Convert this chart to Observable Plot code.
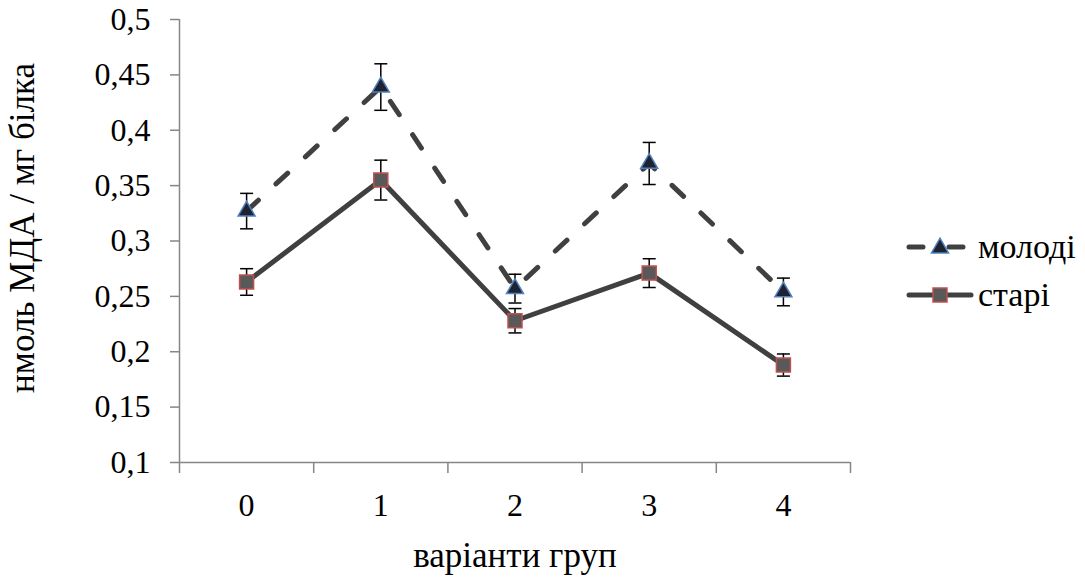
<!DOCTYPE html>
<html>
<head>
<meta charset="utf-8">
<script src="https://cdn.jsdelivr.net/npm/d3@7"></script>
<script src="https://cdn.jsdelivr.net/npm/@observablehq/plot@0.6"></script>
<style>
  html, body { margin: 0; padding: 0; background: #fff; }
  #wrap { position: relative; width: 1085px; height: 577px; font-family: "Liberation Serif", "Times New Roman", serif; }
  #chart svg, #chart svg text { font-family: "Liberation Serif", "Times New Roman", serif; }
  #legend { position: absolute; left: 903px; top: 223px; font-size: 34px; color: #000; }
  #legend .row { display: flex; align-items: center; height: 48px; }
  #legend svg { display: block; }
</style>
</head>
<body>
<div id="wrap">
  <div id="chart"></div>
  <div id="legend"></div>
</div>
<script>
// Groups on the x axis
const groups = [0, 1, 2, 3, 4];

// Series: young animals (молоді) — mean and error
const young = [0.327, 0.439, 0.257, 0.370, 0.254];
const youngErr = [0.016, 0.021, 0.013, 0.019, 0.0125];

// Series: old animals (старі) — mean and error
const old = [0.263, 0.355, 0.228, 0.271, 0.188];
const oldErr = [0.012, 0.018, 0.011, 0.013, 0.010];

// Y axis ticks
const yTicks = [0.1, 0.15, 0.2, 0.25, 0.3, 0.35, 0.4, 0.45, 0.5];

const seriesNames = ["молоді", "старі"];
const xTitle = "варіанти груп";
const yTitle = "нмоль МДА / мг білка";

const rowsYoung = groups.map((g, i) => ({g, v: young[i], e: youngErr[i]}));
const rowsOld = groups.map((g, i) => ({g, v: old[i], e: oldErr[i]}));

// category boundaries for the x tick marks
const xDomain = [groups[0] - 0.5, groups[groups.length - 1] + 0.5];
const boundaries = groups.map(g => g - 0.5).concat([xDomain[1]]);
const yDomain = [yTicks[0], yTicks[yTicks.length - 1]];

const font = "Liberation Serif";
const lineColor = "#404040";
const axisColor = "#868686";
const comma = d => String(d).replace(".", ",");

// horizontal cap symbol for error bars
const cap = {
  draw(context, size) {
    const r = Math.sqrt(size / Math.PI);
    context.moveTo(-r, 0);
    context.lineTo(r, 0);
  }
};

function errorMarks(rows) {
  return [
    Plot.ruleX(rows, {x: "g", y1: d => d.v - d.e, y2: d => d.v + d.e, stroke: "#000", strokeWidth: 1.5}),
    Plot.dot(rows, {x: "g", y: d => d.v + d.e, symbol: cap, r: 6.5, stroke: "#000", strokeWidth: 1.5}),
    Plot.dot(rows, {x: "g", y: d => d.v - d.e, symbol: cap, r: 6.5, stroke: "#000", strokeWidth: 1.5})
  ];
}

const chart = Plot.plot({
  width: 1085,
  height: 577,
  marginLeft: 179,
  marginRight: 235,
  marginTop: 19,
  marginBottom: 115,
  style: {fontFamily: font, fontSize: "32px", color: "#000", background: "#fff"},
  x: {type: "linear", domain: xDomain},
  y: {type: "linear", domain: yDomain},
  marks: [
    // axis lines
    Plot.ruleX([xDomain[0]], {stroke: axisColor, strokeWidth: 1.5}),
    Plot.ruleY([yDomain[0]], {stroke: axisColor, strokeWidth: 1.5}),
    Plot.axisY({ticks: yTicks, tickFormat: comma, tickSize: 9, tickPadding: 20, stroke: axisColor, strokeWidth: 1.5,
      fontFamily: font, fontSize: 32, label: null}),
    Plot.axisX({ticks: boundaries, tickFormat: () => "", tickSize: 11, stroke: axisColor, strokeWidth: 1.5, label: null}),
    Plot.axisX({ticks: groups, tickFormat: d => String(d), tickSize: 0, tickPadding: 31,
      fontFamily: font, fontSize: 32, label: null}),
    // axis titles
    Plot.text([yTitle], {frameAnchor: "left", rotate: -90, textAnchor: "middle", dx: -146, dy: -13, lineAnchor: "bottom",
      fontFamily: font, fontSize: 35, fill: "#000"}),
    Plot.text([xTitle], {frameAnchor: "bottom", textAnchor: "middle", dy: 104, lineAnchor: "bottom",
      fontFamily: font, fontSize: 35, fill: "#000"}),
    // lines
    Plot.line(rowsYoung, {x: "g", y: "v", stroke: lineColor, strokeWidth: 5, strokeDasharray: "16,24", strokeLinecap: "round"}),
    Plot.line(rowsOld, {x: "g", y: "v", stroke: lineColor, strokeWidth: 5, strokeLinecap: "round"}),
    // error bars
    ...errorMarks(rowsYoung),
    ...errorMarks(rowsOld),
    // markers
    Plot.dot(rowsYoung, {x: "g", y: "v", symbol: "triangle", r: 6.3, fill: "#1f2230", stroke: "#4f81bd", strokeWidth: 1.5}),
    Plot.dot(rowsOld, {x: "g", y: "v", symbol: "square", r: 7.9, fill: "#595959", stroke: "#c0504d", strokeWidth: 1.5})
  ]
});
document.getElementById("chart").appendChild(chart);

// legend
const legend = document.getElementById("legend");
const swatches = [
  `<svg width="75" height="30"><line x1="6" y1="15" x2="62" y2="15" stroke="${lineColor}" stroke-width="5" stroke-dasharray="14,26" stroke-linecap="round"/><path d="${d3.symbol(d3.symbolTriangle, Math.PI * 6.3 * 6.3)()}" transform="translate(37,16)" fill="#1f2230" stroke="#4f81bd" stroke-width="1.5"/></svg>`,
  `<svg width="75" height="30"><line x1="6" y1="15" x2="68" y2="15" stroke="${lineColor}" stroke-width="5" stroke-linecap="round"/><rect x="30" y="8" width="14" height="14" fill="#595959" stroke="#c0504d" stroke-width="1.5"/></svg>`
];
seriesNames.forEach((name, i) => {
  const row = document.createElement("div");
  row.className = "row";
  row.innerHTML = swatches[i] + `<span>${name}</span>`;
  legend.appendChild(row);
});
</script>
</body>
</html>
